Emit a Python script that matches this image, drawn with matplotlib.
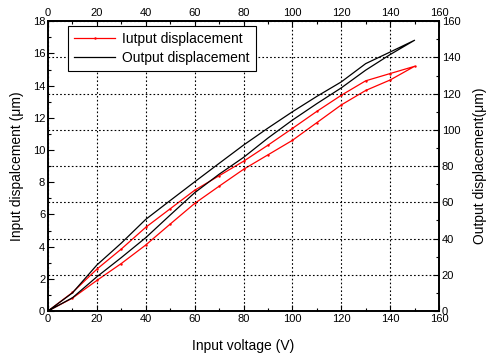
import matplotlib
matplotlib.use("Agg")
import matplotlib.pyplot as plt
from matplotlib.ticker import MultipleLocator

plt.rcParams['font.family'] = ['Liberation Sans', 'DejaVu Sans']

# === Data ===
# input voltage (V), up then down
volt_up = [0, 10, 20, 30, 40, 50, 60, 70, 80, 90, 100, 110, 120, 130, 140, 150]
volt_down = [150, 140, 130, 120, 110, 100, 90, 80, 70, 60, 50, 40, 30, 20, 10, 0]

# input displacement (um), left axis
in_up = [0, 0.8, 1.9, 2.95, 4.1, 5.4, 6.68, 7.75, 8.8, 9.7, 10.6, 11.7, 12.8, 13.7, 14.35, 15.2]
in_down = [15.2, 14.75, 14.3, 13.4, 12.4, 11.34, 10.3, 9.3, 8.4, 7.5, 6.35, 5.2, 3.85, 2.6, 1.15, 0]

# output displacement (um), right axis
out_up = [0, 7.3, 18.9, 29.5, 40.5, 53, 65.3, 75.5, 84.8, 95.5, 105.4, 114.5, 123.2, 133, 141.6, 149.5]
out_down = [149.5, 143, 136.6, 126.5, 118.5, 110, 101, 91.6, 81.5, 71.3, 61, 50.6, 37.5, 25.4, 10, 0]

volt = volt_up + volt_down[1:]
in_disp = in_up + in_down[1:]
out_disp = out_up + out_down[1:]

# === Plot ===
fig = plt.figure(figsize=(4.88, 3.54), dpi=100)
ax = fig.add_axes([0.0984, 0.1215, 0.8012, 0.8185])
ax2 = ax.twinx()

l1, = ax.plot(volt, in_disp, color='red', lw=0.9, marker='.', markersize=1.5)
l2, = ax2.plot(volt, out_disp, color='black', lw=0.9)

ax.set_xlim(0, 160)
ax.set_ylim(0, 18)
ax2.set_ylim(0, 160)

ax.xaxis.set_major_locator(MultipleLocator(20))
ax.xaxis.set_minor_locator(MultipleLocator(10))
ax.yaxis.set_major_locator(MultipleLocator(2))
ax.yaxis.set_minor_locator(MultipleLocator(1))
ax2.yaxis.set_major_locator(MultipleLocator(20))
ax2.yaxis.set_minor_locator(MultipleLocator(10))

top = ax.secondary_xaxis('top')
top.xaxis.set_major_locator(MultipleLocator(20))
top.xaxis.set_minor_locator(MultipleLocator(10))

for a in (ax, ax2, top):
    a.tick_params(which='major', direction='in', length=4, width=0.8, labelsize=8, pad=2)
    a.tick_params(which='minor', direction='in', length=2, width=0.8)
for a in (ax, ax2):
    for s in a.spines.values():
        s.set_linewidth(1.2)
top.spines['top'].set_linewidth(1.2)

grid_style = dict(color='black', linestyle=(0, (1.5, 2)), linewidth=0.8)
ax.xaxis.grid(True, **grid_style)
ax2.yaxis.grid(True, **grid_style)

ax.set_xlabel('Input voltage (V)', fontsize=10, labelpad=11)
ax.set_ylabel('Input dispalcement (\u03bcm)', fontsize=10, labelpad=6)
ax2.set_ylabel('Output displacement(\u03bcm)', fontsize=10, labelpad=9)

leg = ax2.legend([l1, l2], ['Iutput displacement', 'Output displacement'],
                 loc='upper left', bbox_to_anchor=(0.05, 0.985), fontsize=10,
                 fancybox=False, framealpha=1, edgecolor='black',
                 handlelength=3.0, handletextpad=0.5, borderpad=0.45,
                 labelspacing=0.35, borderaxespad=0)
leg.get_frame().set_linewidth(0.8)

fig.savefig('out.png', dpi=100)
